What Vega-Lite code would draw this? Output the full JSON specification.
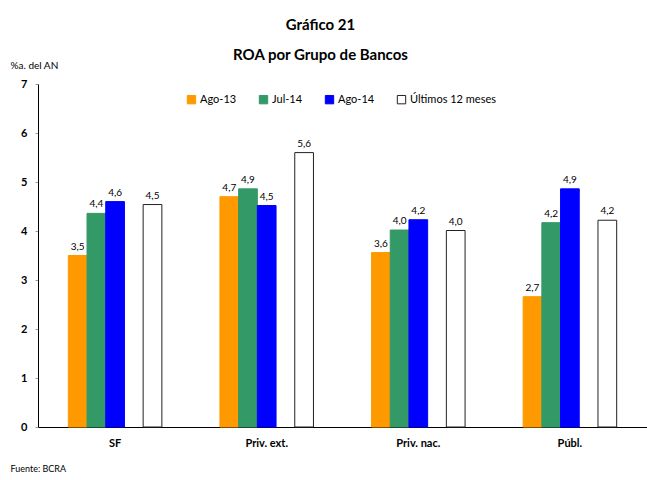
{
  "$schema": "https://vega.github.io/schema/vega-lite/v6.json",
  "width": 609,
  "height": 343,
  "autosize": {"type": "none"},
  "padding": {"left": 38, "top": 84, "right": 0, "bottom": 53},
  "background": "white",
  "config": {
    "font": "Lato",
    "view": {"stroke": null},
    "locale": {"number": {"decimal": ",", "thousands": ".", "grouping": [3], "currency": ["$", ""]}}
  },
  "title": {
    "text": "Gráfico 21",
    "subtitle": "ROA por Grupo de Bancos",
    "anchor": "middle",
    "frame": "bounds",
    "fontSize": 15,
    "fontWeight": "bold",
    "subtitleFontSize": 15,
    "subtitleFontWeight": "bold",
    "subtitleColor": "black",
    "color": "black",
    "subtitlePadding": 15.5,
    "offset": -3,
    "dx": -8
  },
  "data": {
    "values": [
      {"grupo": "SF", "serie": "Ago-13", "valor": 3.5},
      {"grupo": "SF", "serie": "Jul-14", "valor": 4.36},
      {"grupo": "SF", "serie": "Ago-14", "valor": 4.6},
      {"grupo": "SF", "serie": "Últimos 12 meses", "valor": 4.54},
      {"grupo": "Priv. ext.", "serie": "Ago-13", "valor": 4.7},
      {"grupo": "Priv. ext.", "serie": "Jul-14", "valor": 4.86},
      {"grupo": "Priv. ext.", "serie": "Ago-14", "valor": 4.52},
      {"grupo": "Priv. ext.", "serie": "Últimos 12 meses", "valor": 5.6},
      {"grupo": "Priv. nac.", "serie": "Ago-13", "valor": 3.56},
      {"grupo": "Priv. nac.", "serie": "Jul-14", "valor": 4.02},
      {"grupo": "Priv. nac.", "serie": "Ago-14", "valor": 4.23},
      {"grupo": "Priv. nac.", "serie": "Últimos 12 meses", "valor": 4.01},
      {"grupo": "Públ.", "serie": "Ago-13", "valor": 2.66},
      {"grupo": "Públ.", "serie": "Jul-14", "valor": 4.17},
      {"grupo": "Públ.", "serie": "Ago-14", "valor": 4.86},
      {"grupo": "Públ.", "serie": "Últimos 12 meses", "valor": 4.22}
    ]
  },
  "encoding": {
    "x": {
      "field": "grupo",
      "type": "nominal",
      "sort": ["SF", "Priv. ext.", "Priv. nac.", "Públ."],
      "scale": {"paddingInner": 0.383, "paddingOuter": 0.2},
      "axis": {
        "title": "Fuente: BCRA",
        "titleAnchor": "start",
        "titleAlign": "left",
        "titleX": -28,
        "titleY": 37,
        "titleFontSize": 9,
        "titleFontWeight": "normal",
        "titleColor": "black",
        "labelAngle": 0,
        "labelFontSize": 11,
        "labelFontWeight": "bold",
        "labelColor": "black",
        "labelPadding": 10,
        "ticks": false,
        "domainColor": "black",
        "domainWidth": 1
      }
    },
    "xOffset": {
      "field": "serie",
      "type": "nominal",
      "scale": {
        "domain": ["Ago-13", "Jul-14", "Ago-14", "_gap", "Últimos 12 meses"],
        "paddingInner": 0,
        "paddingOuter": 0
      }
    },
    "y": {
      "field": "valor",
      "type": "quantitative",
      "scale": {"domain": [0, 7], "nice": false},
      "axis": {
        "title": "%a. del AN",
        "titleAngle": 0,
        "titleAlign": "left",
        "titleBaseline": "middle",
        "titleX": -28,
        "titleY": -19,
        "titleFontSize": 10,
        "titleFontWeight": "normal",
        "titleColor": "black",
        "values": [0, 1, 2, 3, 4, 5, 6, 7],
        "labelOverlap": false,
        "labelFontSize": 11,
        "labelFontWeight": "bold",
        "labelColor": "black",
        "labelPadding": 8,
        "tickSize": 3,
        "tickColor": "#999999",
        "domainColor": "black",
        "domainWidth": 1,
        "grid": false
      }
    }
  },
  "layer": [
    {
      "mark": {"type": "bar", "strokeWidth": 1},
      "encoding": {
        "fill": {
          "field": "serie",
          "type": "nominal",
          "scale": {
            "domain": ["Ago-13", "Jul-14", "Ago-14", "Últimos 12 meses"],
            "range": ["#FF9900", "#339966", "#0000FF", "#FFFFFF"]
          },
          "legend": {
            "title": null,
            "orient": "none",
            "direction": "horizontal",
            "columns": 4,
            "legendX": 148,
            "legendY": 10,
            "symbolType": "square",
            "symbolSize": 70,
            "symbolStrokeWidth": 1,
            "labelFontSize": 11,
            "labelColor": "black",
            "labelOffset": 3,
            "columnPadding": 20
          }
        },
        "stroke": {
          "field": "serie",
          "type": "nominal",
          "scale": {
            "domain": ["Ago-13", "Jul-14", "Ago-14", "Últimos 12 meses"],
            "range": ["#FF9900", "#339966", "#0000FF", "#222222"]
          },
          "legend": null
        }
      }
    },
    {
      "mark": {"type": "text", "baseline": "bottom", "dy": -4, "fontSize": 10, "color": "black"},
      "encoding": {
        "text": {"field": "valor", "type": "quantitative", "format": ".1f"}
      }
    }
  ]
}
